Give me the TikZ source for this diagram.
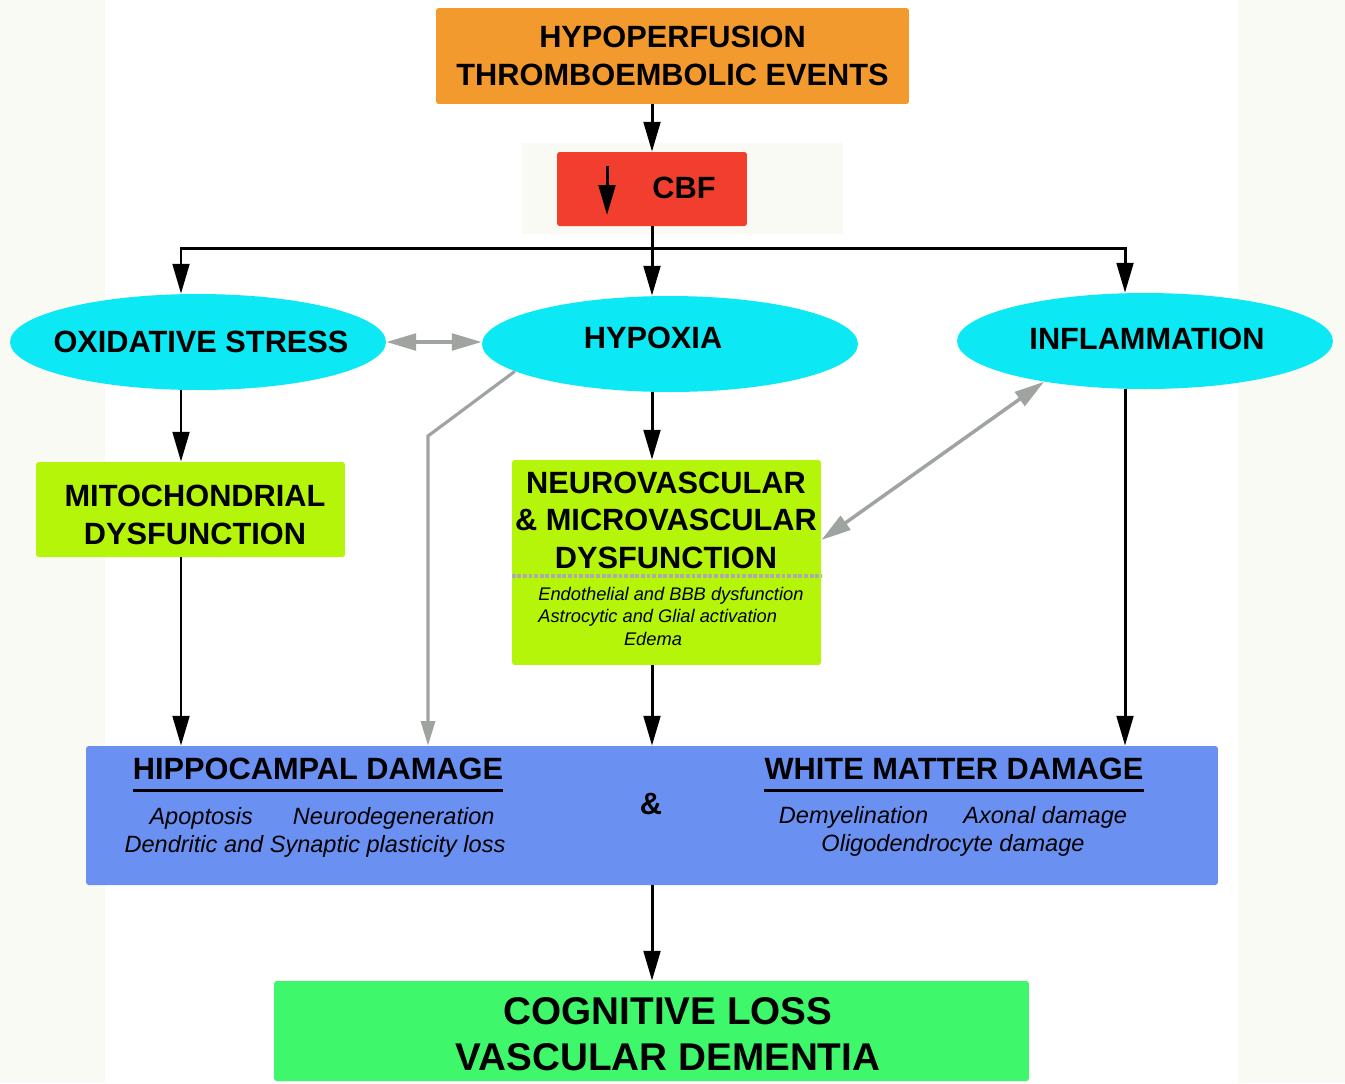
\documentclass[tikz,border=0pt]{standalone}
\usepackage{fontspec}
\setmainfont{Liberation Sans}
\usepackage{xcolor}
\usetikzlibrary{arrows.meta,shapes.geometric}

\definecolor{orangefill}{HTML}{F39A2F}
\definecolor{redfill}{HTML}{F23E2E}
\definecolor{cyanfill}{HTML}{0CE8F4}
\definecolor{limefill}{HTML}{B4F50A}
\definecolor{bluefill}{HTML}{6A91F2}
\definecolor{greenfill}{HTML}{3EF76A}
\definecolor{arrowgrey}{HTML}{A0A4A0}
\definecolor{offwhite}{HTML}{FAFAF5}

\begin{document}
\begin{tikzpicture}[
  x=0.02cm, y=-0.02cm,
  box/.style={rectangle, inner sep=0pt, align=center, rounded corners=1.5pt,
    font=\fontsize{17.5}{21.3}\selectfont\bfseries},
  label/.style={inner sep=0pt, align=center, font=\fontsize{17.5}{21.3}\selectfont\bfseries},
  oval/.style={ellipse, fill=cyanfill, inner sep=0pt, minimum width=7.52cm,
    minimum height=1.92cm},
  subsmall/.style={inner sep=0pt, align=center, font=\fontsize{10.4}{12.5}\selectfont\itshape},
  sublarge/.style={inner sep=0pt, align=center, font=\fontsize{13.4}{15.9}\selectfont\itshape},
  blk/.style={line width=1.7pt, -{Triangle[length=17pt,width=9.5pt]}},
  gry/.style={draw=arrowgrey, line width=1.8pt, -{Triangle[length=14pt,width=8pt]}},
  gry2/.style={draw=arrowgrey, line width=2pt,
    {Triangle[length=17pt,width=9.5pt]}-{Triangle[length=17pt,width=9.5pt]}},
  uline/.style={line width=1.7pt},
  divider/.style={draw=gray!65, line width=2.2pt, densely dotted}
]
% background
\fill[white] (0,0) rectangle (1345,1083);
\fill[offwhite] (0,0) rectangle (105,1083);
\fill[offwhite] (1238,0) rectangle (1345,1083);
\fill[offwhite] (522,143) rectangle (843,234);
\useasboundingbox (0,0) rectangle (1345,1083);

% boxes
\node[box, fill=orangefill, minimum width=9.46cm, minimum height=1.92cm] (cause) at (672.5,56)
  {HYPOPERFUSION\\THROMBOEMBOLIC EVENTS};
\node[box, fill=redfill, minimum width=3.8cm, minimum height=1.48cm] (cbf) at (652,189) {};
\node[label] (cbftxt) at (684,188) {CBF};
\coordinate (cbfa) at (607,166);
\coordinate (cbfb) at (607,215);
\draw[blk] (cbfa) -- (cbfb);

\node[oval] (ox) at (198,342) {};
\node[label] (oxtxt) at (201,342) {OXIDATIVE STRESS};
\node[oval] (hyp) at (670,344) {};
\node[label] (hyptxt) at (653,338) {HYPOXIA};
\node[oval] (inf) at (1145,341) {};
\node[label] (inftxt) at (1147,339) {INFLAMMATION};

\node[box, fill=limefill, minimum width=6.18cm, minimum height=1.9cm] (mito) at (190.5,509.5) {};
\node[label] (mitotxt) at (195,515) {MITOCHONDRIAL\\DYSFUNCTION};
\node[box, fill=limefill, minimum width=6.18cm, minimum height=4.1cm] (nv) at (666.5,562.5) {};
\node[label] (nvtitle) at (666,520) {NEUROVASCULAR\\\& MICROVASCULAR\\DYSFUNCTION};
\draw[divider] ([yshift=-0.27cm]nv.west) -- ([yshift=-0.27cm]nv.east);
\node[subsmall, anchor=west, align=left] (nvlist) at (538,607)
  {Endothelial and BBB dysfunction\\Astrocytic and Glial activation};
\node[subsmall] (edema) at (653,639) {Edema};

\node[box, fill=bluefill, minimum width=22.64cm, minimum height=2.78cm] (dmg) at (652,815.5) {};
\node[label] (hipt) at (318,769) {HIPPOCAMPAL DAMAGE};
\draw[uline] ([yshift=-6pt]hipt.base west) -- ([yshift=-6pt]hipt.base east);
\node[sublarge] (hipsub) at (315,832)
  {\hspace*{8pt}Apoptosis\hspace{1.7em}Neurodegeneration\\Dendritic and Synaptic plasticity loss};
\node[label] (amp) at (651,804) {\&};
\node[label] (wmt) at (954,769) {WHITE MATTER DAMAGE};
\draw[uline] ([yshift=-6pt]wmt.base west) -- ([yshift=-6pt]wmt.base east);
\node[sublarge] (wmsub) at (953,831)
  {Demyelination\hspace{1.5em}Axonal damage\\Oligodendrocyte damage};

\node[box, fill=greenfill, minimum width=15.1cm, minimum height=2cm] (cog) at (651.5,1031) {};
\node[label, font=\fontsize{22}{26}\selectfont\bfseries] (cogtxt) at (668,1034)
  {COGNITIVE LOSS\\VASCULAR DEMENTIA};

% black connectors
\coordinate (split) at (652,248);
\coordinate (oxout) at ([xshift=-0.34cm]ox.south);
\coordinate (infout) at ([xshift=-0.4cm]inf.south);
\draw[blk] (cause.south -| cbf.north) -- (cbf.north);
\draw[line width=1.7pt] (cbf.south) -- (split);
\draw[blk] (split) -| ([xshift=-0.34cm]ox.north);
\draw[blk] (split) -| ([xshift=-0.4cm]inf.north);
\draw[blk] (split) -- (split |- hyp.north);
\draw[blk] (oxout) -- (oxout |- mito.north);
\draw[blk] (oxout |- mito.south) -- (oxout |- dmg.north);
\draw[blk] (split |- hyp.south) -- (split |- nv.north);
\draw[blk] (split |- nv.south) -- (split |- dmg.north);
\draw[blk] (infout) -- (infout |- dmg.north);
\draw[blk] (split |- dmg.south) -- (split |- cog.north);

% grey connectors
\coordinate (bend) at (428,436);
\draw[gry2] (ox.east) -- (ox.east -| hyp.west);
\draw[gry2] (inf.202) -- ([yshift=0.45cm]nv.east);
\draw[gry] (hyp.190) -- (bend) -- (bend |- dmg.north);
\end{tikzpicture}
\end{document}
